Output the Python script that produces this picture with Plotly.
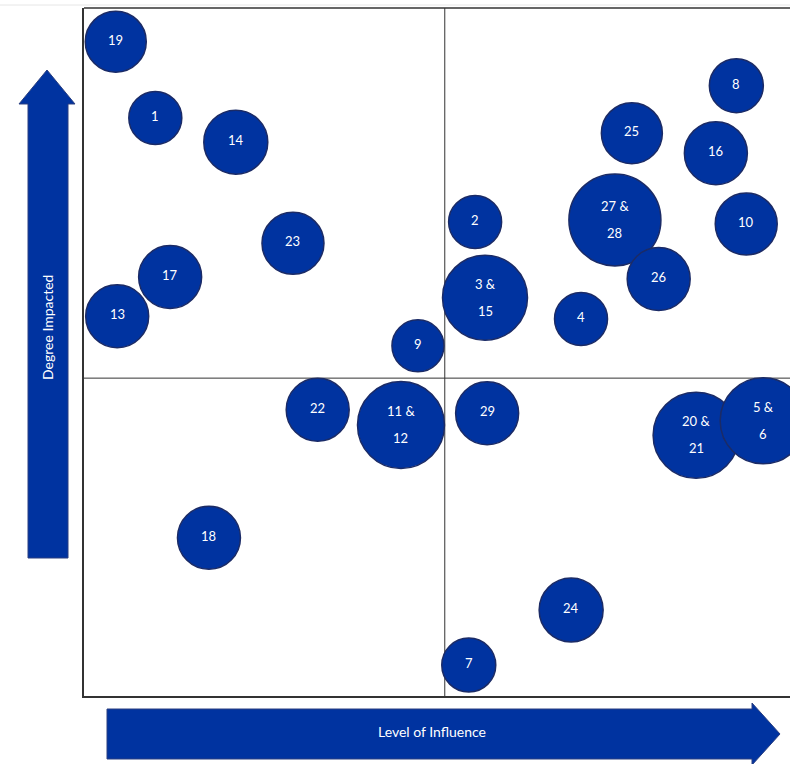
import plotly.graph_objects as go

# Stakeholder positions: level of influence (x) vs degree impacted (y), 0-100 scale
labels = ["19", "1", "14", "23", "17", "13", "9", "2", "3 & 15", "4",
          "27 & 28", "26", "25", "8", "16", "10", "22", "11 & 12", "29",
          "20 & 21", "5 & 6", "18", "24", "7"]
influence = [4.5, 10.1, 21.5, 29.6, 12.2, 4.7, 47.3, 55.4, 56.8, 70.4,
             75.2, 81.4, 77.6, 92.4, 89.5, 93.8, 33.1, 44.9, 57.1,
             86.7, 96.2, 17.7, 69.0, 54.5]
impact = [95.1, 84.0, 80.5, 65.8, 60.9, 55.2, 50.9, 68.9, 57.9, 54.8,
          69.2, 60.6, 81.8, 88.7, 78.9, 68.6, 41.6, 39.4, 41.1,
          37.9, 40.0, 23.0, 12.5, 4.5]
bubble_px = [61, 53, 64, 62, 63, 63, 52, 53, 85, 53,
             92, 63, 61, 54, 63, 62, 63, 87, 63,
             86, 86, 63, 64, 54]

# Quadrant dividers
mid_influence = 51.1
mid_impact = 46.2

BLUE = "#0033a0"
EDGE = "#1b2b66"
FONT = "Lato"

# Plot area in pixels (used to place the decorative axis arrows)
W, H = 790, 764
L, T, R, B = 84, 8, 0, 68
PW, PH = W - L - R, H - T - B


def px(x):
    return (x - L) / PW


def py(y):
    return (T + PH - y) / PH


def path(points):
    return "M " + " L ".join(f"{px(a):.5f},{py(b):.5f}" for a, b in points) + " Z"


fig = go.Figure()
fig.add_trace(go.Scatter(
    x=influence, y=impact, mode="markers",
    marker=dict(size=bubble_px, color=BLUE, line=dict(color=EDGE, width=1.5),
                opacity=1),
    hoverinfo="text", text=labels, showlegend=False,
))

annotations = []
for lab, xv, yv in zip(labels, influence, impact):
    if "&" in lab:
        first, second = lab.split("&")
        parts = [(first.strip() + " &", 14), (second.strip(), -13)]
    else:
        parts = [(lab, 2)]
    for txt, shift in parts:
        annotations.append(dict(
            x=xv, y=yv, xref="x", yref="y", text=txt, showarrow=False,
            xanchor="center", yanchor="middle",
            yshift=shift, font=dict(family=FONT, size=13, color="white"),
        ))

annotations.append(dict(
    x=px(432), y=py(731), xref="paper", yref="paper", text="Level of Influence",
    xanchor="center", yanchor="middle", showarrow=False,
    font=dict(family=FONT, size=14, color="white"),
))
annotations.append(dict(
    x=px(47), y=py(328), xref="paper", yref="paper", text="Degree Impacted",
    xanchor="center", yanchor="middle", showarrow=False, textangle=-90,
    font=dict(family=FONT, size=14, color="white"),
))

shapes = [
    # quadrant dividers
    dict(type="line", xref="x", yref="paper", x0=mid_influence, x1=mid_influence,
         y0=0, y1=1, line=dict(color="#333333", width=1), layer="below"),
    dict(type="line", xref="paper", yref="y", x0=0, x1=1,
         y0=mid_impact, y1=mid_impact, line=dict(color="#333333", width=1), layer="below"),
    # top frame edge
    dict(type="line", xref="paper", yref="paper", x0=0, x1=1, y0=1, y1=1,
         line=dict(color="#333333", width=1.5)),
    dict(type="line", xref="paper", yref="paper", x0=px(0), x1=1, y0=py(5), y1=py(5),
         line=dict(color="#e6e6e6", width=1), layer="below"),
    # vertical arrow (degree impacted)
    dict(type="path", xref="paper", yref="paper",
         path=path([(28, 558), (28, 104), (19, 104), (47, 70), (75, 104),
                    (68, 104), (68, 558)]),
         fillcolor=BLUE, line=dict(color="#2a3f80", width=1)),
    # horizontal arrow (level of influence)
    dict(type="path", xref="paper", yref="paper",
         path=path([(107, 709), (752, 709), (752, 703), (780, 734), (752, 765),
                    (752, 759), (107, 759)]),
         fillcolor=BLUE, line=dict(color="#2a3f80", width=1)),
]

fig.update_layout(
    width=W, height=H,
    margin=dict(l=L, r=R, t=T, b=B),
    paper_bgcolor="white", plot_bgcolor="white",
    xaxis=dict(range=[0, 100], showgrid=False, zeroline=False, showticklabels=False,
               ticks="", showline=True, linecolor="#333333", linewidth=1.5, fixedrange=True),
    yaxis=dict(range=[0, 100], showgrid=False, zeroline=False, showticklabels=False,
               ticks="", showline=True, linecolor="#333333", linewidth=1.5, fixedrange=True),
    shapes=shapes,
    annotations=annotations,
    showlegend=False,
)

fig.write_html("out.html")
